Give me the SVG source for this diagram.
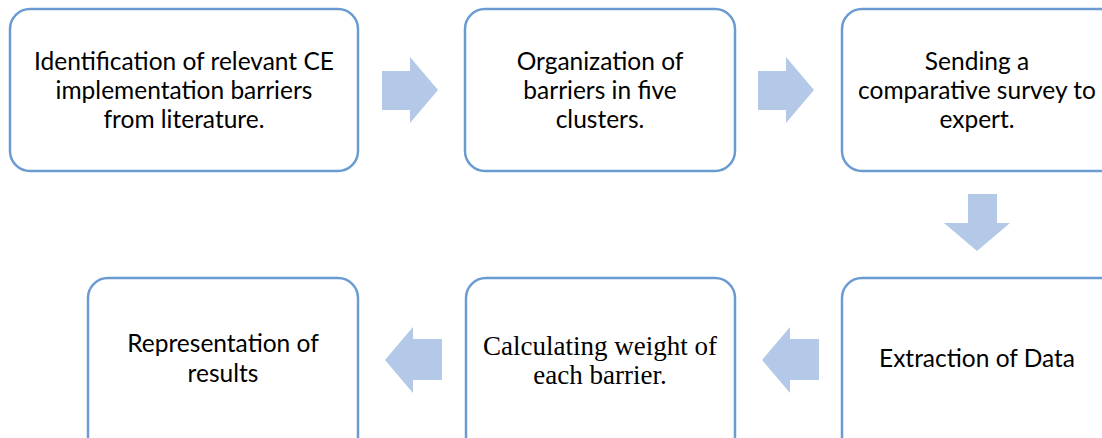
<svg xmlns="http://www.w3.org/2000/svg" width="1102" height="438" viewBox="0 0 1102 438">
<style>
.box{fill:#fff;stroke:#6a9bd1;stroke-width:2.5}
.t{font-family:Lato,"Liberation Sans",sans-serif;font-size:24.5px;fill:#000;text-anchor:middle}
.s{font-family:"Liberation Serif",serif;font-size:27px;fill:#000;text-anchor:middle}
.arr{fill:#b4c8e8}
</style>
<rect width="1102" height="438" fill="#fff"/>
<g id="connectors">
<polygon class="arr" points="382,71 410,71 410,57 438,90 410,123 410,110 382,110"/>
<polygon class="arr" points="758,71 786,71 786,57 814,90 786,123 786,110 758,110"/>
<polygon class="arr" points="968,194 997,194 997,223 1010,223 977,251 944,223 968,223"/>
<polygon class="arr" points="819,339 790,339 790,327 762,360 790,393 790,380 819,380"/>
<polygon class="arr" points="442,339 413,339 413,327 385,360 413,393 413,380 442,380"/>
</g>
<g id="n1"><rect class="box" x="10" y="9" width="348" height="162" rx="20"/>
<text class="t" x="184" y="70">Identification of relevant CE</text>
<text class="t" x="184" y="99">implementation barriers</text>
<text class="t" x="184" y="128">from literature.</text></g>
<g id="n2"><rect class="box" x="465" y="9" width="270" height="162" rx="20"/>
<text class="t" x="600" y="70">Organization of</text>
<text class="t" x="600" y="99">barriers in five</text>
<text class="t" x="600" y="128">clusters.</text></g>
<g id="n3"><rect class="box" x="842" y="9" width="290" height="162" rx="20"/>
<text class="t" x="977" y="70">Sending a</text>
<text class="t" x="977" y="99">comparative survey to</text>
<text class="t" x="977" y="128">expert.</text></g>
<g id="n6"><rect class="box" x="842" y="278" width="290" height="200" rx="20"/>
<text class="t" x="977" y="367">Extraction of Data</text></g>
<g id="n5"><rect class="box" x="466" y="278" width="269" height="200" rx="20"/>
<text class="s" x="600" y="355">Calculating weight of</text>
<text class="s" x="600" y="384">each barrier.</text></g>
<g id="n4"><rect class="box" x="88" y="278" width="270" height="200" rx="20"/>
<text class="t" x="223" y="352">Representation of</text>
<text class="t" x="223" y="382">results</text></g>
</svg>
